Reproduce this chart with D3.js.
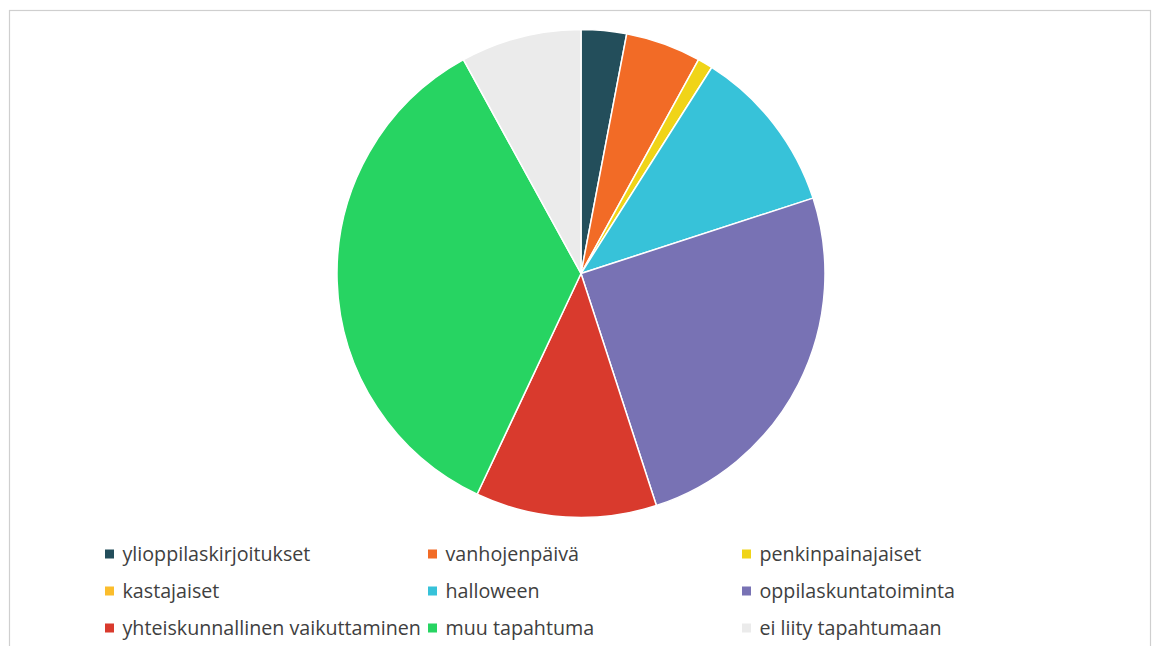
<!DOCTYPE html>
<html>
<head>
<meta charset="utf-8">
<script src="https://cdn.jsdelivr.net/npm/d3@7"></script>
<style>
  html, body { margin: 0; padding: 0; background: #ffffff; }
  svg { display: block; }
</style>
</head>
<body>
<svg id="chart" width="1152" height="646"></svg>
<script>
// Share of responses per event type (percent)
const categories = [
  "ylioppilaskirjoitukset",
  "vanhojenpäivä",
  "penkinpainajaiset",
  "kastajaiset",
  "halloween",
  "oppilaskuntatoiminta",
  "yhteiskunnallinen vaikuttaminen",
  "muu tapahtuma",
  "ei liity tapahtumaan"
];
const values = [3, 5, 1, 0, 11, 25, 12, 35, 8];
const colors = [
  "#234e5b", "#f26b26", "#f0d418", "#fbbd2c", "#37c2d9",
  "#7872b4", "#d93a2d", "#27d462", "#ebebeb"
];

const svg = d3.select("#chart");

// outer frame
svg.append("rect")
  .attr("x", 9.5).attr("y", 10.5)
  .attr("width", 1141).attr("height", 660)
  .attr("fill", "none")
  .attr("stroke", "#cfcfcf")
  .attr("stroke-width", 1.2);

const data = categories.map((c, i) => ({ name: c, value: values[i], color: colors[i] }));

const pie = d3.pie().value(d => d.value).sort(null);
const arc = d3.arc().innerRadius(0).outerRadius(244);

const g = svg.append("g").attr("transform", "translate(581,273.5)");
g.selectAll("path")
  .data(pie(data).filter(d => d.data.value > 0))
  .join("path")
  .attr("d", arc)
  .attr("fill", d => d.data.color)
  .attr("stroke", "#ffffff")
  .attr("stroke-width", 1.5)
  .attr("stroke-linejoin", "round");

// legend: three columns, three rows
const colX = [105, 428, 742];
const rowY = [554, 591, 628];
const fontFamily = "'Open Sans', Lato, sans-serif";

// size the legend font so the first label spans ~188px
const probe = svg.append("text")
  .attr("font-family", fontFamily).attr("font-size", 100)
  .text(categories[0]);
const fontSize = 100 * 188 / probe.node().getComputedTextLength();
probe.remove();

const legend = svg.append("g");
data.forEach((d, i) => {
  const x = colX[i % 3], y = rowY[Math.floor(i / 3)];
  legend.append("rect")
    .attr("x", x).attr("y", y - 4.5)
    .attr("width", 9).attr("height", 9)
    .attr("fill", d.color);
  legend.append("text")
    .attr("x", x + 17.5).attr("y", y)
    .attr("dy", "0.36em")
    .attr("font-family", fontFamily)
    .attr("font-size", fontSize)
    .attr("fill", "#404040")
    .text(d.name);
});
</script>
</body>
</html>
